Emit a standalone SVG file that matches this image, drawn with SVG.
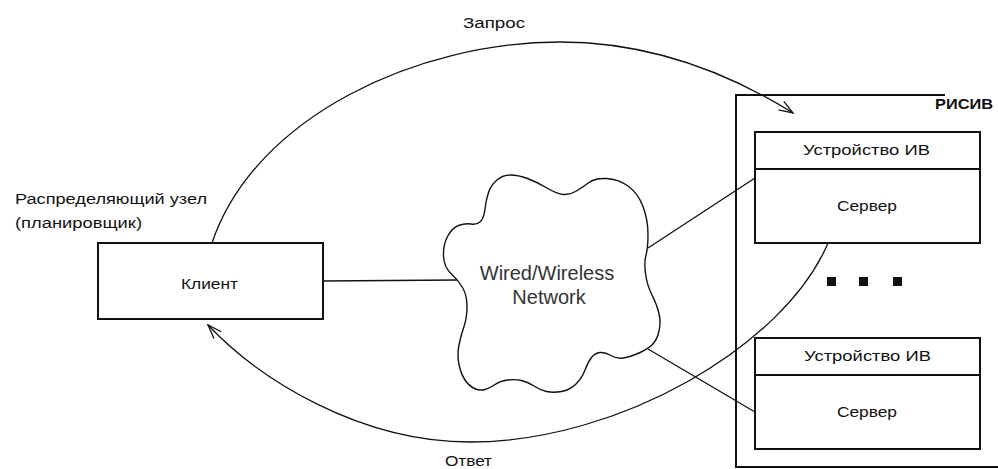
<svg xmlns="http://www.w3.org/2000/svg" width="998" height="469" viewBox="0 0 998 469">
  <style>
    .box { fill: none; stroke: #111; stroke-width: 2; }
    .edge { fill: none; stroke: #111; stroke-width: 1.3; }
    .lbl { font-family: "Liberation Sans", Arial, sans-serif; font-size: 14px; fill: #111; }
    .net { font-family: "Liberation Sans", Arial, sans-serif; font-size: 20px; fill: #333; }
  </style>
  <defs>
    <marker id="open" markerUnits="userSpaceOnUse" viewBox="0 0 16 12" refX="15" refY="6" markerWidth="16" markerHeight="12" orient="auto">
      <path d="M1,1 L15,6 L1,11" fill="none" stroke="#111" stroke-width="1.3"/>
    </marker>
  </defs>
  <rect width="998" height="469" fill="#fff"/>

  <!-- RISIV enclosure -->
  <g id="risiv">
    <path d="M945,95 H736 V467 H998" fill="none" stroke="#111" stroke-width="2"/>
    <text class="lbl" x="935" y="109" font-weight="bold" textLength="58" lengthAdjust="spacingAndGlyphs">РИСИВ</text>
  </g>

  <!-- connectors -->
  <g id="connectors">
    <line class="edge" x1="323" y1="281" x2="458" y2="280"/>
    <line class="edge" x1="648" y1="248" x2="755" y2="178"/>
    <line class="edge" x1="648" y1="349" x2="755" y2="412"/>
    <path class="edge" marker-end="url(#open)" d="M212,243 C255,115 420,42 560,42 C660,42 740,80 793,113"/>
    <path class="edge" marker-end="url(#open)" d="M828,243 C785,345 620,442 470,442 C360,442 260,380 208,325"/>
  </g>

  <!-- network cloud -->
  <g id="network">
    <path fill="#fff" stroke="#111" stroke-width="1.4" d="M462.5,287.5 Q458,280 451,273.5 Q444,267 443.5,256 Q443,245 447.5,236.5 Q452,228 458.5,225.5 Q465,223 471,224 Q477,225 480.5,221.5 Q484,218 485,209 Q486,200 488.5,192.5 Q491,185 497,180 Q503,175 510.5,175 Q518,175 527.5,178.5 Q537,182 547,188 Q557,194 563.5,194.5 Q570,195 576.5,191 Q583,187 589,182.5 Q595,178 606.5,178.5 Q618,179 628,186 Q638,193 643,206.5 Q648,220 648,234 Q648,248 646,255 Q644,262 645.5,273.5 Q647,285 652,295 Q657,305 659,313.5 Q661,322 659,331 Q657,340 652.5,344.5 Q648,349 639,353 Q630,357 623.5,358 Q617,359 611,355.5 Q605,352 600,352.5 Q595,353 591.5,357.5 Q588,362 585,370 Q582,378 576,384 Q570,390 561.5,391.5 Q553,393 546.5,391.5 Q540,390 534,386 Q528,382 521.5,380.5 Q515,379 507.5,380 Q500,381 495,384.5 Q490,388 485,389.5 Q480,391 474.5,388.5 Q469,386 465,380 Q461,374 459,364.5 Q457,355 459,345 Q461,335 464,326.5 Q467,318 467,306.5 Q467,295 462.5,287.5 Z"/>
    <text class="net" x="547" y="280" text-anchor="middle">Wired/Wireless</text>
    <text class="net" x="549" y="304" text-anchor="middle">Network</text>
  </g>

  <!-- client node -->
  <g id="client">
    <rect class="box" x="98" y="243" width="225" height="76"/>
    <text class="lbl" x="181" y="289" textLength="57" lengthAdjust="spacingAndGlyphs">Клиент</text>
    <text class="lbl" x="15" y="204" textLength="192" lengthAdjust="spacingAndGlyphs">Распределяющий узел</text>
    <text class="lbl" x="15" y="228" textLength="127" lengthAdjust="spacingAndGlyphs">(планировщик)</text>
  </g>

  <!-- device 1 -->
  <g id="device1">
    <rect class="box" x="755" y="132" width="225" height="111"/>
    <line x1="755" y1="169" x2="980" y2="169" stroke="#111" stroke-width="2"/>
    <text class="lbl" x="803" y="155" textLength="127" lengthAdjust="spacingAndGlyphs">Устройство ИВ</text>
    <text class="lbl" x="837" y="211" textLength="60" lengthAdjust="spacingAndGlyphs">Сервер</text>
  </g>

  <!-- ellipsis between devices -->
  <g id="more">
    <rect x="827" y="277" width="9" height="9" fill="#111"/>
    <rect x="859" y="277" width="9" height="9" fill="#111"/>
    <rect x="893" y="277" width="9" height="9" fill="#111"/>
  </g>

  <!-- device 2 -->
  <g id="device2">
    <rect class="box" x="755" y="338" width="225" height="111"/>
    <line x1="755" y1="375" x2="980" y2="375" stroke="#111" stroke-width="2"/>
    <text class="lbl" x="804" y="361" textLength="127" lengthAdjust="spacingAndGlyphs">Устройство ИВ</text>
    <text class="lbl" x="837" y="417" textLength="60" lengthAdjust="spacingAndGlyphs">Сервер</text>
  </g>

  <!-- arc labels -->
  <g id="arc-labels">
    <text class="lbl" x="463" y="28" textLength="62" lengthAdjust="spacingAndGlyphs">Запрос</text>
    <text class="lbl" x="445" y="466" textLength="47" lengthAdjust="spacingAndGlyphs">Ответ</text>
  </g>
</svg>
